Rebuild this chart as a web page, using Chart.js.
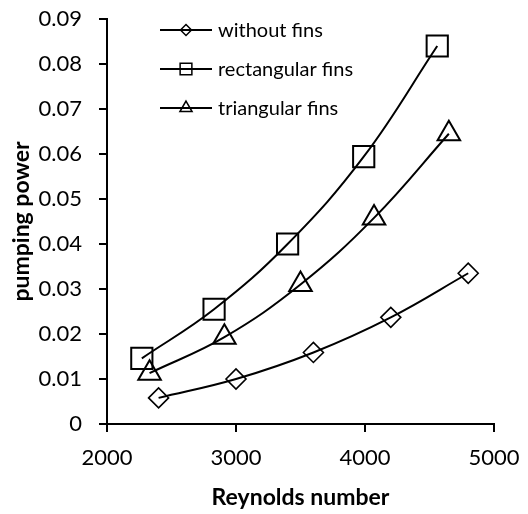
<!DOCTYPE html>
<html>
<head>
<meta charset="utf-8">
<script src="https://cdn.jsdelivr.net/npm/chart.js@4.4.0/dist/chart.umd.min.js"></script>
<style>
  body { margin: 0; background: #fff; }
</style>
</head>
<body>
<canvas id="pumpingChart" width="528" height="514"></canvas>
<script>
// values
const seriesLabels = ['without fins', 'rectangular fins', 'triangular fins'];

const reWithout = [2400, 3000, 3600, 4200, 4800];
const ppWithout = [0.0058, 0.0100, 0.0159, 0.0237, 0.0335];

const reRect = [2270, 2830, 3400, 3990, 4560];
const ppRect = [0.0146, 0.0255, 0.0400, 0.0594, 0.0840];

const reTri = [2330, 2910, 3500, 4070, 4650];
const ppTri = [0.0113, 0.0193, 0.0310, 0.0458, 0.0645];

const xTicks = [2000, 3000, 4000, 5000];
const yTicks = [0, 0.01, 0.02, 0.03, 0.04, 0.05, 0.06, 0.07, 0.08, 0.09];

let pumpingChart;

function toPoints(xs, ys) {
    return xs.map((x, i) => ({ x: x, y: ys[i] }));
}

// legend drawn as line + marker, like the spreadsheet one
const lineLegend = {
    id: 'lineLegend',
    afterDraw(chart) {
        const ctx = chart.ctx;
        chart.data.datasets.forEach((ds, i) => {
            const y = 30 + i * 39;
            ctx.save();
            ctx.strokeStyle = '#000';
            ctx.fillStyle = 'rgba(0,0,0,0)';
            ctx.lineWidth = 2;
            ctx.beginPath();
            ctx.moveTo(160, y);
            ctx.lineTo(212, y);
            ctx.stroke();
            ctx.lineWidth = 1.5;
            Chart.helpers.drawPoint(ctx, {
                pointStyle: ds.pointStyle,
                radius: ds.legendRadius,
                rotation: 0,
                borderWidth: 1.5
            }, 186, y);
            ctx.fillStyle = '#000';
            ctx.font = '20px Lato';
            ctx.textBaseline = 'middle';
            ctx.textAlign = 'left';
            ctx.fillText(ds.label, 218, y + 1);
            ctx.restore();
        });
    }
};

document.addEventListener('DOMContentLoaded', function() {
    Chart.defaults.font.family = 'Lato';
    Chart.defaults.color = '#000';

    const ctx = document.getElementById('pumpingChart').getContext('2d');
    const common = {
        borderColor: '#000',
        borderWidth: 2,
        pointBorderColor: '#000',
        pointBackgroundColor: 'rgba(0,0,0,0)',
        pointBorderWidth: 2,
        tension: 0.4,
        fill: false
    };

    pumpingChart = new Chart(ctx, {
        type: 'line',
        data: {
            datasets: [
                Object.assign({}, common, {
                    label: seriesLabels[0],
                    data: toPoints(reWithout, ppWithout),
                    pointStyle: 'rectRot',
                    pointRadius: 10,
                    pointBorderWidth: 1.6,
                    legendRadius: 5.5
                }),
                Object.assign({}, common, {
                    label: seriesLabels[1],
                    data: toPoints(reRect, ppRect),
                    pointStyle: 'rect',
                    pointRadius: 15,
                    legendRadius: 8.3
                }),
                Object.assign({}, common, {
                    label: seriesLabels[2],
                    data: toPoints(reTri, ppTri),
                    pointStyle: 'triangle',
                    pointRadius: 13,
                    legendRadius: 7
                })
            ]
        },
        options: {
            responsive: false,
            animation: false,
            layout: {
                autoPadding: false,
                padding: { left: 0, right: 34, top: 19, bottom: 0 }
            },
            plugins: {
                legend: { display: false },
                tooltip: { enabled: false }
            },
            scales: {
                x: {
                    type: 'linear',
                    min: xTicks[0],
                    max: xTicks[xTicks.length - 1],
                    afterBuildTicks: (scale) => { scale.ticks = xTicks.map(v => ({ value: v })); },
                    afterFit: (scale) => {
                        scale.height = 90;
                        scale.paddingLeft = 0;
                        scale.paddingRight = 0;
                    },
                    border: { color: '#000', width: 2 },
                    grid: { drawOnChartArea: false, color: '#000', lineWidth: 2, tickLength: 8 },
                    ticks: {
                        padding: 13,
                        font: { size: 22 },
                        maxRotation: 0,
                        callback: (v) => String(v)
                    },
                    title: {
                        display: true,
                        text: 'Reynolds number',
                        font: { size: 23, weight: 'bold' },
                        padding: { top: 0, bottom: 3 }
                    }
                },
                y: {
                    min: 0,
                    max: 0.09,
                    afterBuildTicks: (scale) => { scale.ticks = yTicks.map(v => ({ value: v })); },
                    afterFit: (scale) => {
                        // tick padding would otherwise push the plot top down
                        scale.width = 107;
                        scale.paddingTop = 0;
                        scale.paddingBottom = 0;
                    },
                    border: { color: '#000', width: 2 },
                    grid: { drawOnChartArea: false, color: '#000', lineWidth: 2, tickLength: 8 },
                    ticks: {
                        padding: 17,
                        font: { size: 22 },
                        callback: (v) => v === 0 ? '0' : v.toFixed(2)
                    },
                    title: {
                        display: true,
                        text: 'pumping power',
                        font: { size: 23, weight: 'bold' },
                        padding: { top: 8, bottom: 0 }
                    }
                }
            }
        },
        plugins: [lineLegend]
    });
});
</script>
</body>
</html>
